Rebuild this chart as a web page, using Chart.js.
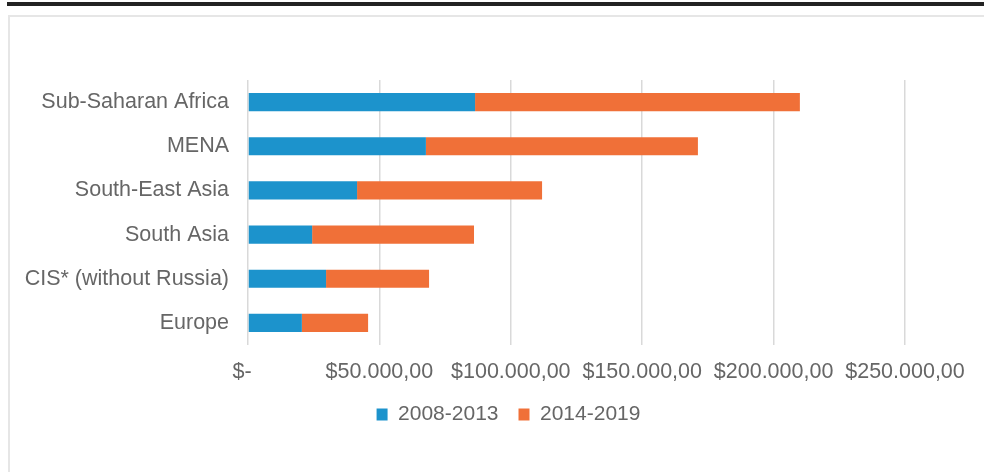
<!DOCTYPE html>
<html>
<head>
<meta charset="utf-8">
<script src="https://cdn.jsdelivr.net/npm/chart.js@4"></script>
<style>
  body { margin: 0; background: #fff; }
  #topline { position: absolute; top: 2px; left: 7px; right: 0; height: 4px; background: #222; }
  #frame { position: absolute; top: 15px; left: 8px; width: 1000px; height: 500px; border: 2px solid #e6e6e6; }
  #chart { position: absolute; top: 0; left: 0; }
</style>
</head>
<body>
<div id="topline"></div>
<div id="frame"></div>
<canvas id="chart" width="984" height="472"></canvas>
<script>
// regions (top to bottom)
const regions = ['Sub-Saharan Africa', 'MENA', 'South-East Asia', 'South Asia', 'CIS* (without Russia)', 'Europe'];
const period1 = [86400, 67700, 41500, 24400, 29700, 20500];   // 2008-2013
const period2 = [123600, 103500, 70400, 61600, 39200, 25200]; // 2014-2019
const xTickLabels = ['$-  ', '$50.000,00', '$100.000,00', '$150.000,00', '$200.000,00', '$250.000,00'];

const textColor = '#666666';
const fontFamily = '"Liberation Sans", Arial, sans-serif';

// legend sits a bit right of the canvas centre in the original
const shiftLegend = {
    id: 'shiftLegend',
    afterLayout(chart) {
        chart.legend.left += 46;
        chart.legend.right += 46;
    }
};

const ctx = document.getElementById('chart').getContext('2d');
new Chart(ctx, {
    type: 'bar',
    data: {
        labels: regions,
        datasets: [{
            label: '2008-2013',
            data: period1,
            backgroundColor: '#1c93cc',
            categoryPercentage: 1,
            barPercentage: 0.41
        }, {
            label: '2014-2019',
            data: period2,
            backgroundColor: '#f07038',
            categoryPercentage: 1,
            barPercentage: 0.41
        }]
    },
    options: {
        indexAxis: 'y',
        responsive: false,
        animation: false,
        layout: { padding: { top: 80, left: 20, right: 79, bottom: 37 } },
        plugins: {
            tooltip: { enabled: false },
            legend: {
                position: 'bottom',
                labels: {
                    color: textColor,
                    font: { family: fontFamily, size: 21 },
                    boxWidth: 11,
                    boxHeight: 12,
                    padding: 20
                }
            }
        },
        scales: {
            x: {
                stacked: true,
                min: 0,
                max: 250000,
                border: { display: false },
                grid: { color: '#d9d9d9', lineWidth: 1.5, drawTicks: false },
                ticks: {
                    stepSize: 50000,
                    padding: 14,
                    color: textColor,
                    font: { family: fontFamily, size: 21.5 },
                    callback: (v, i) => xTickLabels[i]
                },
                afterFit: scale => { scale.height = 39; }
            },
            y: {
                stacked: true,
                border: { display: false },
                grid: { display: false, drawTicks: false },
                ticks: {
                    padding: 19,
                    color: textColor,
                    font: { family: fontFamily, size: 21.5 }
                },
                afterFit: scale => { scale.width = 228; }
            }
        }
    },
    plugins: [shiftLegend]
});
</script>
</body>
</html>
